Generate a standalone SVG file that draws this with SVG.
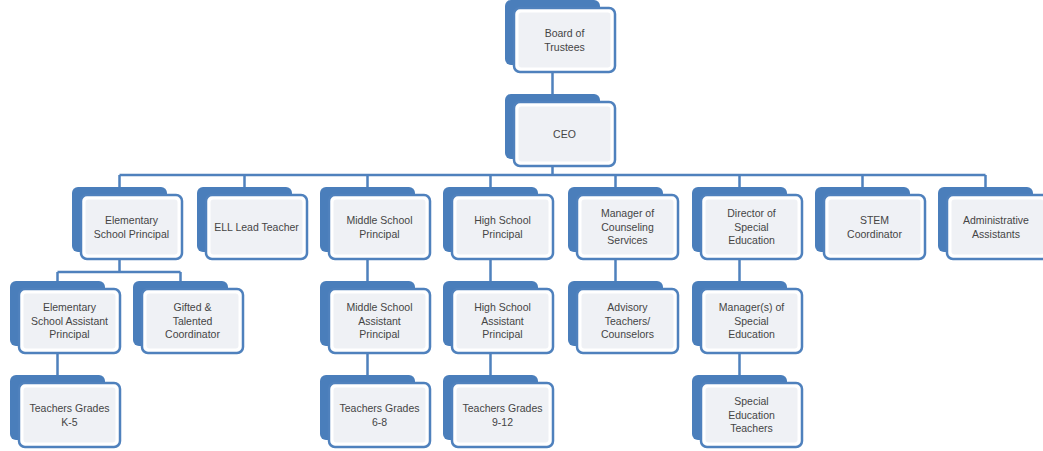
<svg xmlns="http://www.w3.org/2000/svg" xmlns:xlink="http://www.w3.org/1999/xlink" width="1043" height="451" viewBox="0 0 1043 451">
<style>
.t{font-family:"Liberation Sans",Arial,sans-serif;font-size:10.5px;fill:#454545;text-anchor:middle}
.c{stroke:#4f81bd;stroke-width:2.5;fill:none}
</style>
<defs>
<g id="card">
<rect x="0" y="0" width="95" height="65" rx="6" fill="#4a7ebb"/>
<rect x="9" y="8" width="101" height="64" rx="6" fill="#ffffff" stroke="#4f81bd" stroke-width="2.5"/>
<rect x="13.5" y="12.5" width="92" height="55" rx="3" fill="#eff1f5"/>
</g>
</defs>
<rect width="1043" height="451" fill="#ffffff"/>
<g id="connectors" class="c">
<path d="M552.5 72V94M552.5 166V175M119.5 175H985.5"/>
<path d="M119.5 175V187M244.5 175V187M367.5 175V187M490.5 175V187M615.5 175V187M739.5 175V187M862.5 175V187M985.5 175V187"/>
<path d="M119.5 259V272M57.5 272H180.5M57.5 272V281M180.5 272V281"/>
<path d="M367.5 259V281M490.5 259V281M615.5 259V281M739.5 259V281"/>
<path d="M57.5 353V375M367.5 353V375M490.5 353V375M739.5 353V375"/>
</g>
<g id="n-board"><use href="#card" x="505" y="0"/><text class="t" x="564.5" y="37">Board of</text><text class="t" x="564.5" y="50.5">Trustees</text></g>
<g id="n-ceo"><use href="#card" x="505" y="94"/><text class="t" x="564.5" y="137.7">CEO</text></g>
<g id="n-elem-principal"><use href="#card" x="72" y="187"/><text class="t" x="131.5" y="224">Elementary</text><text class="t" x="131.5" y="237.5">School Principal</text></g>
<g id="n-ell"><use href="#card" x="197" y="187"/><text class="t" x="256.5" y="230.7">ELL Lead Teacher</text></g>
<g id="n-ms-principal"><use href="#card" x="320" y="187"/><text class="t" x="379.5" y="224">Middle School</text><text class="t" x="379.5" y="237.5">Principal</text></g>
<g id="n-hs-principal"><use href="#card" x="443" y="187"/><text class="t" x="502.5" y="224">High School</text><text class="t" x="502.5" y="237.5">Principal</text></g>
<g id="n-counseling"><use href="#card" x="568" y="187"/><text class="t" x="627.5" y="217.2">Manager of</text><text class="t" x="627.5" y="230.7">Counseling</text><text class="t" x="627.5" y="244.2">Services</text></g>
<g id="n-sped-director"><use href="#card" x="692" y="187"/><text class="t" x="751.5" y="217.2">Director of</text><text class="t" x="751.5" y="230.7">Special</text><text class="t" x="751.5" y="244.2">Education</text></g>
<g id="n-stem"><use href="#card" x="815" y="187"/><text class="t" x="874.5" y="224">STEM</text><text class="t" x="874.5" y="237.5">Coordinator</text></g>
<g id="n-admin"><use href="#card" x="938" y="187"/><text class="t" x="996" y="224">Administrative</text><text class="t" x="996" y="237.5">Assistants</text></g>
<g id="n-elem-asst"><use href="#card" x="10" y="281"/><text class="t" x="69.5" y="311.2">Elementary</text><text class="t" x="69.5" y="324.7">School Assistant</text><text class="t" x="69.5" y="338.2">Principal</text></g>
<g id="n-gifted"><use href="#card" x="133" y="281"/><text class="t" x="192.5" y="311.2">Gifted &amp;</text><text class="t" x="192.5" y="324.7">Talented</text><text class="t" x="192.5" y="338.2">Coordinator</text></g>
<g id="n-ms-asst"><use href="#card" x="320" y="281"/><text class="t" x="379.5" y="311.2">Middle School</text><text class="t" x="379.5" y="324.7">Assistant</text><text class="t" x="379.5" y="338.2">Principal</text></g>
<g id="n-hs-asst"><use href="#card" x="443" y="281"/><text class="t" x="502.5" y="311.2">High School</text><text class="t" x="502.5" y="324.7">Assistant</text><text class="t" x="502.5" y="338.2">Principal</text></g>
<g id="n-advisory"><use href="#card" x="568" y="281"/><text class="t" x="627.5" y="311.2">Advisory</text><text class="t" x="627.5" y="324.7">Teachers/</text><text class="t" x="627.5" y="338.2">Counselors</text></g>
<g id="n-sped-manager"><use href="#card" x="692" y="281"/><text class="t" x="751.5" y="311.2">Manager(s) of</text><text class="t" x="751.5" y="324.7">Special</text><text class="t" x="751.5" y="338.2">Education</text></g>
<g id="n-teachers-k5"><use href="#card" x="10" y="375"/><text class="t" x="69.5" y="412">Teachers Grades</text><text class="t" x="69.5" y="425.5">K-5</text></g>
<g id="n-teachers-68"><use href="#card" x="320" y="375"/><text class="t" x="379.5" y="412">Teachers Grades</text><text class="t" x="379.5" y="425.5">6-8</text></g>
<g id="n-teachers-912"><use href="#card" x="443" y="375"/><text class="t" x="502.5" y="412">Teachers Grades</text><text class="t" x="502.5" y="425.5">9-12</text></g>
<g id="n-sped-teachers"><use href="#card" x="692" y="375"/><text class="t" x="751.5" y="405.2">Special</text><text class="t" x="751.5" y="418.7">Education</text><text class="t" x="751.5" y="432.2">Teachers</text></g>
</svg>
